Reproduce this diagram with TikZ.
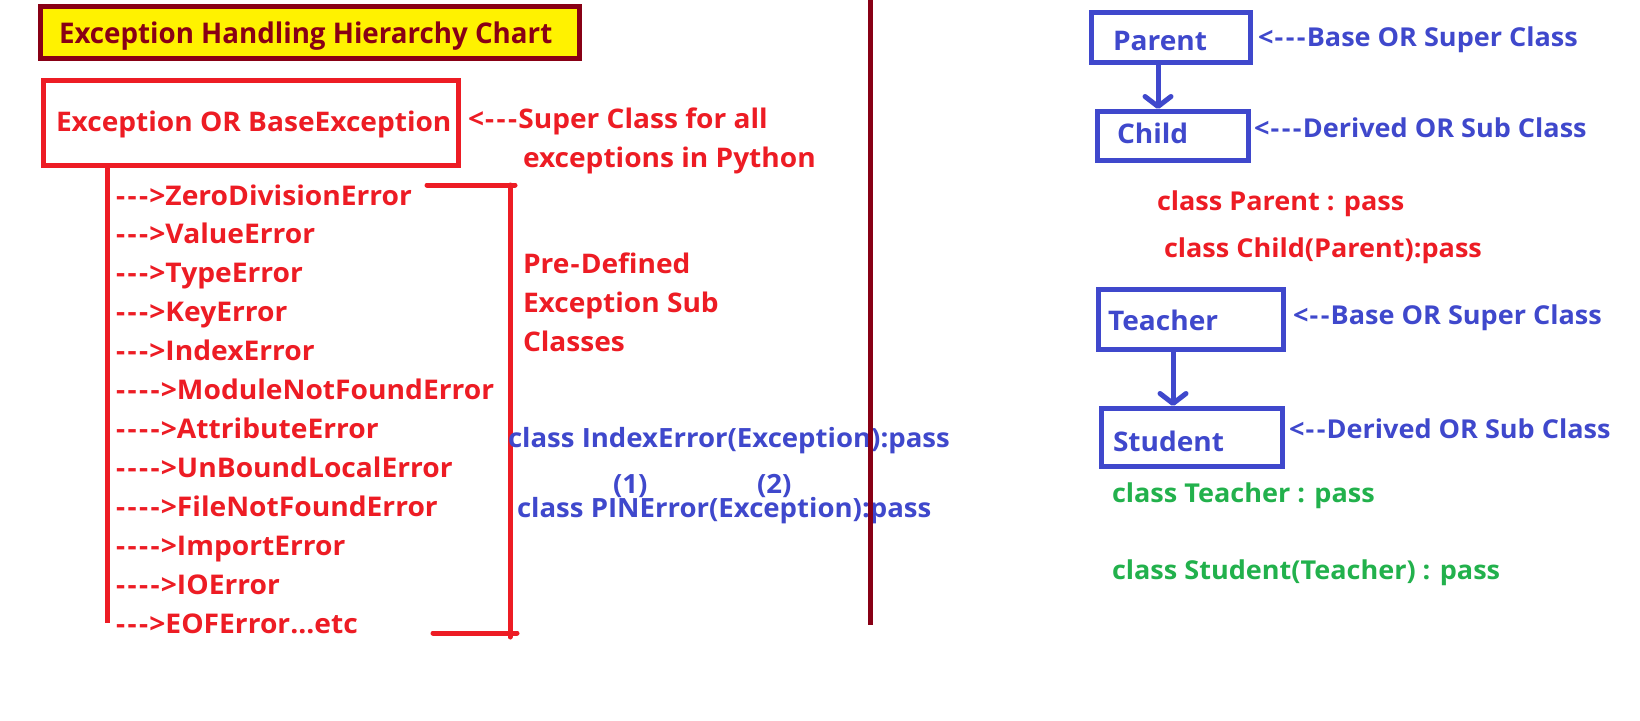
\documentclass[tikz,border=0pt]{standalone}
\usepackage{fontspec}
\newfontfamily\df{Open Sans}[Ligatures=TeXOff, FakeStretch=1.04]
\usetikzlibrary{arrows.meta}
\definecolor{exred}{HTML}{ED1C24}
\definecolor{exdark}{HTML}{880015}
\definecolor{exyellow}{HTML}{FFF200}
\definecolor{exblue}{HTML}{3F48CC}
\definecolor{exgreen}{HTML}{22B14C}
\newcommand{\hy}{\kern1.2pt-\kern1.2pt}
\tikzset{
  txt/.style={inner sep=0pt, outer sep=0pt, anchor=base west, font=\df\bfseries\fontsize{27}{30}\selectfont},
  small/.style={txt, font=\df\bfseries\fontsize{26}{30}\selectfont},
  listt/.style={txt, text=exred, font=\df\bfseries\fontsize{27.1}{30}\selectfont},
  redt/.style={txt, text=exred},
  redsmall/.style={small, text=exred},
  bluet/.style={txt, text=exblue},
  bluesmall/.style={small, text=exblue},
  codet/.style={txt, text=exblue, font=\df\bfseries\fontsize{26.5}{30}\selectfont},
  greent/.style={small, text=exgreen},
  boxline/.style={draw, line width=5pt, inner sep=0pt},
  redbox/.style={boxline, draw=exred},
  bluebox/.style={boxline, draw=exblue},
  redline/.style={draw=exred, line width=5pt, line cap=round},
  inh/.style={draw=exblue, line width=5pt, -{Straight Barb[length=10pt, width=26pt, round]}},
}
\begin{document}
\begin{tikzpicture}[x=1pt, y=-1pt]
\useasboundingbox (0,0) rectangle (1640,720);
\fill[white] (0,0) rectangle (1640,720);

% ---------- title ----------
\node[boxline, draw=exdark, fill=exyellow, minimum width=539pt, minimum height=52pt] (titlebox) at (310,32.5) {};
\node[txt, text=exdark, font=\df\bfseries\fontsize{28.5}{32}\selectfont] (title) at (59,43) {\scalebox{0.935}[1]{Exception Handling Hierarchy Chart}};

% ---------- exception box ----------
\node[redbox, minimum width=414.5pt, minimum height=85pt] (exc) at (250.75,123) {};
\node[redt] (exctxt) at (56,131) {Exception OR BaseException};
\node[redt] (sup1) at (468,128) {<\hy\hy\hy Super Class for all};
\node[redt] (sup2) at (523,167) {exceptions in Python};

% trunk line
\coordinate (trunkend) at (107,623);
\draw[redline, line cap=butt] (exc.south -| trunkend) -- (trunkend);

% list items
\node[listt] (e1) at (115,205) {\hy\hy\hy>ZeroDivisionError};
\node[listt] (e2) at (115,243.9) {\hy\hy\hy>ValueError};
\node[listt] (e3) at (115,282.8) {\hy\hy\hy>TypeError};
\node[listt] (e4) at (115,321.7) {\hy\hy\hy>KeyError};
\node[listt] (e5) at (115,360.6) {\hy\hy\hy>IndexError};
\node[listt] (e6) at (115,399.5) {\hy\hy\hy\hy>ModuleNotFoundError};
\node[listt] (e7) at (115,438.4) {\hy\hy\hy\hy>AttributeError};
\node[listt] (e8) at (115,477.3) {\hy\hy\hy\hy>UnBoundLocalError};
\node[listt] (e9) at (115,516.2) {\hy\hy\hy\hy>FileNotFoundError};
\node[listt] (e10) at (115,555.1) {\hy\hy\hy\hy>ImportError};
\node[listt] (e11) at (115,594) {\hy\hy\hy\hy>IOError};
\node[listt] (e12) at (115,633) {\hy\hy\hy>EOFError...etc};

% bracket
\coordinate (bta) at (427,185);
\coordinate (btb) at (515,185);
\coordinate (bva) at (510,185);
\coordinate (bvb) at (510,637);
\coordinate (bba) at (433,633);
\coordinate (bbb) at (517,633);
\draw[redline] (bta) -- (btb);
\draw[redline] (bva) -- (bvb);
\draw[redline] (bba) -- (bbb);

\node[redt] (pd1) at (523,273) {Pre\hy Defined};
\node[redt] (pd2) at (523,312) {Exception Sub};
\node[redt] (pd3) at (523,351) {Classes};

% blue code
\node[codet] (c1) at (508,447) {class IndexError(Exception):pass};
\node[codet] (n1) at (613,493) {(1)};
\node[codet] (n2) at (757,493) {(2)};
\node[codet] (c2) at (517,517) {class PINError(Exception):pass};

% divider
\coordinate (dtop) at (870,0);
\coordinate (dbot) at (870,625);
\draw[draw=exdark, line width=5pt] (dtop) -- (dbot);

% ---------- right side ----------
\node[bluebox, minimum width=159pt, minimum height=50pt] (parent) at (1171,37.5) {};
\node[bluet] (parenttxt) at (1113,50) {Parent};
\node[bluesmall] (pl) at (1258,46) {<\hy\hy\hy Base OR Super Class};

\node[bluebox, minimum width=151pt, minimum height=49pt] (child) at (1173,136) {};
\node[bluet] (childtxt) at (1117,143) {Child};
\node[bluesmall] (cl) at (1254,137) {<\hy\hy\hy Derived OR Sub Class};

\coordinate (ax1) at (1158,0);
\draw[inh] (parent.south -| ax1) -- (child.north -| ax1);

\node[redsmall] (pc1) at (1157,210) {class Parent : pass};
\node[redsmall] (pc2) at (1164,257) {class Child(Parent):pass};

\node[bluebox, minimum width=185pt, minimum height=60pt] (teacher) at (1191,319.5) {};
\node[bluet] (teachertxt) at (1108,330) {Teacher};
\node[bluesmall] (tl) at (1293,324) {<\hy\hy Base OR Super Class};

\node[bluebox, minimum width=181pt, minimum height=58pt] (student) at (1192,437.5) {};
\node[bluet] (studenttxt) at (1113,451) {Student};
\node[bluesmall] (sl) at (1289,438) {<\hy\hy Derived OR Sub Class};

\coordinate (ax2) at (1173,0);
\draw[inh] (teacher.south -| ax2) -- (student.north -| ax2);

\node[greent] (g1) at (1112,502) {class Teacher : pass};
\node[greent] (g2) at (1112,579) {class Student(Teacher) : pass};
\end{tikzpicture}
\end{document}
